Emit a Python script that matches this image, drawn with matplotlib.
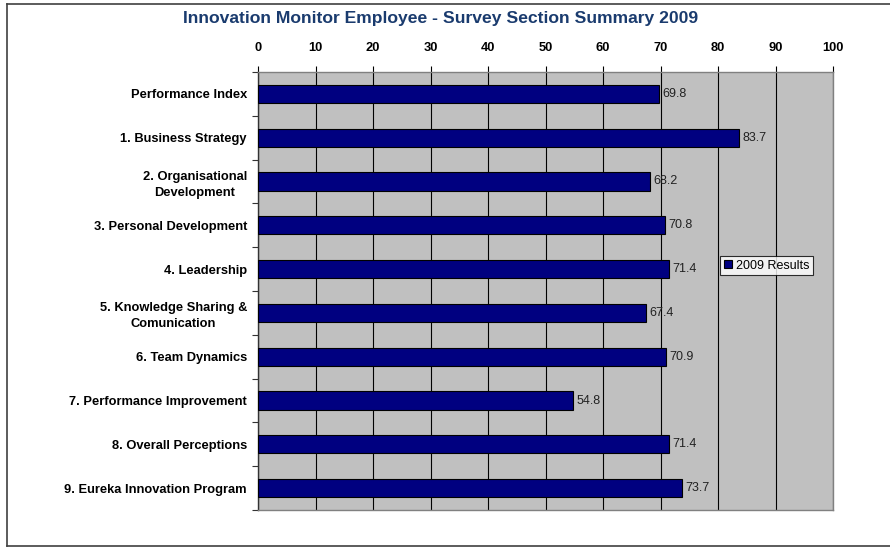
#!/usr/bin/env python3
"""Innovation Monitor employee survey - section summary bar chart (2009)."""

import matplotlib.pyplot as plt
import numpy as np
from matplotlib.lines import Line2D

plt.rcParams["font.family"] = ["Liberation Sans", "DejaVu Sans"]

categories = [
    "Performance Index",
    "1. Business Strategy",
    "2. Organisational\nDevelopment",
    "3. Personal Development",
    "4. Leadership",
    "5. Knowledge Sharing &\nComunication",
    "6. Team Dynamics",
    "7. Performance Improvement",
    "8. Overall Perceptions",
    "9. Eureka Innovation Program",
]
results_2009 = [69.8, 83.7, 68.2, 70.8, 71.4, 67.4, 70.9, 54.8, 71.4, 73.7]
series_label = "2009 Results"
x_ticks = np.arange(0, 101, 10)


def main() -> None:
    fig = plt.figure(figsize=(8.9, 5.48), dpi=100)
    ax = fig.add_axes([258 / 890, 1 - 510 / 548, (833 - 258) / 890, (510 - 72) / 548])

    y = np.arange(len(categories))
    bars = ax.barh(y, results_2009, height=0.42, color="#000080",
                   edgecolor="black", linewidth=0.8, zorder=3, label=series_label)

    ax.set_facecolor("#c0c0c0")
    ax.set_xlim(0, 100)
    ax.set_ylim(len(categories) - 0.5, -0.5)
    ax.set_xticks(x_ticks)
    ax.xaxis.tick_top()
    ax.tick_params(axis="x", length=4, width=0.8, pad=9, labelsize=9.3)
    for lbl in ax.get_xticklabels():
        lbl.set_fontweight("bold")
    ax.grid(axis="x", color="black", linewidth=0.8, zorder=1)

    # category labels centred on bars, tick marks at boundaries
    ax.set_yticks(y)
    ax.set_yticklabels(categories, fontsize=9.3, fontweight="bold", multialignment="center")
    for lbl in ax.get_yticklabels():
        lbl.set_linespacing(1.45)
    ax.tick_params(axis="y", length=0, pad=8)
    ax.set_yticks(np.arange(-0.5, len(categories)), minor=True)
    ax.tick_params(axis="y", which="minor", length=4, width=0.8, color="#333333")

    for side in ["top", "right", "bottom"]:
        ax.spines[side].set_color("#808080")
        ax.spines[side].set_linewidth(1.0)
    ax.spines["left"].set_color("#333333")
    ax.spines["left"].set_linewidth(1.0)

    for b, v in zip(bars, results_2009):
        ax.text(v + 0.6, b.get_y() + b.get_height() / 2, f"{v:.1f}",
                ha="left", va="center", fontsize=9, color="#222222", zorder=4)

    leg = ax.legend(loc="center left", bbox_to_anchor=((720 - 258) / 575, 1 - (265.5 - 72) / 438),
                    fontsize=9, frameon=True, fancybox=False, borderpad=0.3,
                    handlelength=0.65, handleheight=0.65, handletextpad=0.3,
                    borderaxespad=0)
    leg.get_frame().set_edgecolor("black")
    leg.get_frame().set_linewidth(0.8)
    leg.get_frame().set_facecolor("white")

    fig.text(441 / 890, 1 - 19 / 548,
             "Innovation Monitor Employee - Survey Section Summary 2009",
             ha="center", va="center", fontsize=12.6, fontweight="bold", color="#1a3b6e")

    # outer chart border (left, top, bottom)
    for xs, ys in [((7, 7), (4, 546)), ((7, 890), (4, 4)), ((7, 890), (546, 546))]:
        fig.add_artist(Line2D([x / 890 for x in xs], [1 - yy / 548 for yy in ys],
                              color="#404040", linewidth=1.2))

    fig.savefig("out.png", dpi=100)
    plt.close(fig)


if __name__ == "__main__":
    main()
